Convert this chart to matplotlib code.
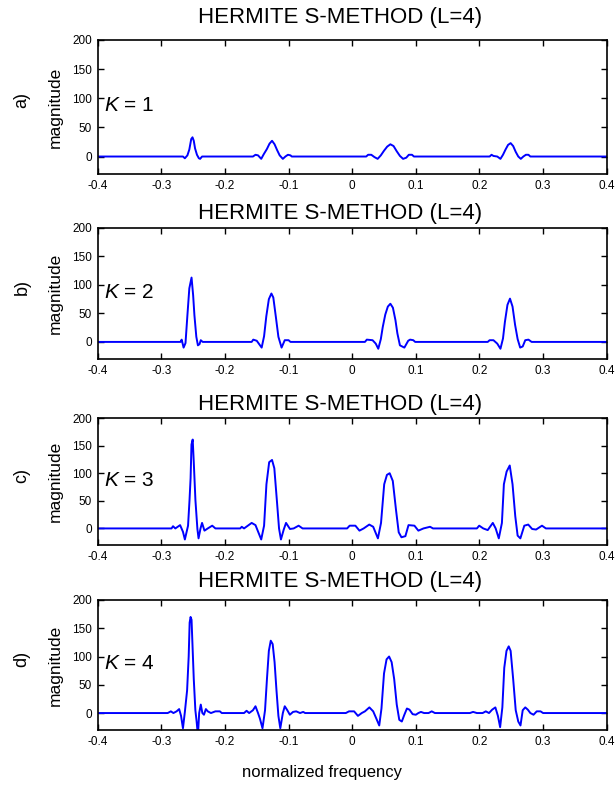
import numpy as np
import matplotlib
matplotlib.use("Agg")
import matplotlib.pyplot as plt

plt.rcParams['font.family'] = ['Liberation Sans', 'DejaVu Sans']
plt.rcParams['mathtext.fontset'] = 'custom'
plt.rcParams['mathtext.it'] = 'Liberation Sans:italic'
plt.rcParams['mathtext.rm'] = 'Liberation Sans'

####################    DATA    ####################
# (frequency, magnitude) breakpoints around each peak, baseline 0 elsewhere

peaks_k1 = [
    [(-0.266, 0), (-0.263, -3), (-0.259, 2), (-0.256, 12), (-0.253, 30), (-0.251, 33), (-0.249, 27),
     (-0.247, 14), (-0.244, 3), (-0.241, -3), (-0.239, -4), (-0.236, 0)],
    [(-0.156, 0), (-0.152, 3), (-0.148, 2), (-0.143, -4), (-0.139, 4), (-0.134, 13), (-0.130, 22),
     (-0.126, 27), (-0.122, 21), (-0.118, 11), (-0.114, 2), (-0.109, -4), (-0.105, 0), (-0.101, 3),
     (-0.097, 2), (-0.095, 0)],
    [(0.022, 0), (0.025, 3), (0.030, 3), (0.035, -1), (0.040, -4), (0.045, 2), (0.050, 10), (0.055, 17),
     (0.060, 21), (0.065, 18), (0.070, 9), (0.075, 1), (0.080, -4), (0.085, -2), (0.089, 3), (0.094, 3),
     (0.097, 0)],
    [(0.216, 0), (0.219, 3), (0.222, 1), (0.228, 0), (0.233, -4), (0.237, 3), (0.241, 12), (0.245, 20),
     (0.249, 23), (0.253, 18), (0.257, 8), (0.261, 0), (0.265, -4), (0.269, 0), (0.273, 3), (0.277, 3),
     (0.280, 0)],
]

peaks_k2 = [
    [(-0.270, 0), (-0.268, 4), (-0.265, -10), (-0.262, -2), (-0.259, 47), (-0.256, 94), (-0.2525, 113),
     (-0.250, 82), (-0.248, 47), (-0.245, 9), (-0.2425, -6), (-0.240, -4), (-0.238, 3), (-0.235, 0)],
    [(-0.158, 0), (-0.1555, 4), (-0.150, 2), (-0.1423, -10), (-0.1385, 10), (-0.135, 45), (-0.131, 75),
     (-0.127, 85), (-0.124, 78), (-0.120, 44), (-0.116, 9), (-0.111, -10), (-0.106, 3), (-0.100, 3),
     (-0.097, 0)],
    [(0.020, 0), (0.023, 4), (0.032, 3), (0.037, -3), (0.041, -12), (0.045, 5), (0.048, 26), (0.052, 48),
     (0.056, 62), (0.060, 67), (0.064, 60), (0.068, 38), (0.071, 15), (0.075, -6), (0.082, -10),
     (0.088, 2), (0.091, 4), (0.096, 3), (0.099, 0)],
    [(0.213, 0), (0.216, 3), (0.222, 3), (0.228, -3), (0.233, -12), (0.237, 6), (0.240, 35), (0.244, 65),
     (0.248, 76), (0.252, 62), (0.256, 30), (0.260, 5), (0.264, -10), (0.268, -8), (0.272, 3),
     (0.277, 4), (0.282, 0)],
]

peaks_k3 = [
    [(-0.284, 0), (-0.2816, 4), (-0.278, 0), (-0.2705, 6), (-0.266, -6), (-0.263, -20), (-0.258, 5),
     (-0.2557, 51), (-0.254, 91), (-0.2526, 152), (-0.2507, 161), (-0.249, 120), (-0.2464, 51),
     (-0.2433, -1), (-0.2415, -18), (-0.2384, 0), (-0.236, 10), (-0.2322, -4), (-0.227, 0),
     (-0.220, 5), (-0.215, 0)],
    [(-0.176, 0), (-0.1736, 3), (-0.170, 0), (-0.158, 10), (-0.152, 6), (-0.143, -20), (-0.1385, 5),
     (-0.1348, 80), (-0.1305, 120), (-0.126, 124), (-0.1224, 109), (-0.118, 45), (-0.115, 0),
     (-0.112, -20), (-0.1076, -2), (-0.104, 10), (-0.0978, -1), (-0.092, 0), (-0.0842, 5), (-0.078, 0)],
    [(-0.008, 0), (-0.004, 5), (0.005, 5), (0.0114, -4), (0.018, 0), (0.0268, 7), (0.033, 3),
     (0.0404, -18), (0.0453, 10), (0.0503, 80), (0.0546, 97), (0.0589, 100), (0.0638, 86),
     (0.0688, 34), (0.0731, -7), (0.0774, -16), (0.0836, -14), (0.0885, 6), (0.0978, 5),
     (0.104, -4), (0.112, 0), (0.1224, 3), (0.127, 0)],
    [(0.196, 0), (0.1996, 5), (0.206, 0), (0.213, -3), (0.221, 10), (0.2255, 0), (0.2304, -18),
     (0.2353, 10), (0.2384, 80), (0.2427, 103), (0.2476, 114), (0.252, 80), (0.2563, 22),
     (0.260, -13), (0.2643, -18), (0.2705, 5), (0.2767, 7), (0.2828, -1), (0.289, -2),
     (0.2983, 5), (0.3044, 0)],
]

peaks_k4 = [
    [(-0.290, 0), (-0.285, 3), (-0.281, 0), (-0.276, 3), (-0.272, 7), (-0.269, -5), (-0.266, -27),
     (-0.263, 2), (-0.2595, 40), (-0.257, 100), (-0.2555, 160), (-0.254, 170), (-0.2525, 165),
     (-0.251, 120), (-0.249, 60), (-0.2465, 5), (-0.2445, -15), (-0.2425, -40), (-0.2405, 0),
     (-0.238, 15), (-0.2355, 0), (-0.233, -3), (-0.230, 7), (-0.227, 3), (-0.222, 0), (-0.215, 3),
     (-0.208, 3), (-0.205, 0)],
    [(-0.178, 0), (-0.170, 0), (-0.166, 4), (-0.162, 0), (-0.156, 5), (-0.152, 12), (-0.148, 0),
     (-0.145, -10), (-0.141, -27), (-0.137, 5), (-0.134, 60), (-0.131, 110), (-0.128, 128),
     (-0.125, 122), (-0.122, 90), (-0.119, 40), (-0.116, -5), (-0.113, -27), (-0.109, 0),
     (-0.106, 12), (-0.102, 5), (-0.098, -3), (-0.093, 2), (-0.088, 3), (-0.082, 0), (-0.077, 2),
     (-0.074, 0)],
    [(-0.010, 0), (-0.005, 3), (0.003, 3), (0.009, -5), (0.015, 0), (0.020, 3), (0.027, 10),
     (0.033, 3), (0.038, -10), (0.0425, -22), (0.046, 8), (0.050, 70), (0.054, 95), (0.058, 100),
     (0.062, 90), (0.066, 60), (0.070, 15), (0.074, -12), (0.078, -15), (0.082, -3), (0.086, 8),
     (0.090, 6), (0.095, -2), (0.100, -3), (0.104, 0), (0.108, 2), (0.113, 0), (0.120, 0),
     (0.125, 3), (0.130, 0)],
    [(0.180, 0), (0.185, 0), (0.190, 2), (0.196, 0), (0.205, 0), (0.210, 3), (0.215, 0), (0.220, 6),
     (0.225, 10), (0.229, -5), (0.2325, -25), (0.236, 10), (0.239, 80), (0.2425, 110), (0.246, 118),
     (0.249, 110), (0.253, 60), (0.257, 5), (0.261, -15), (0.2645, -22), (0.268, 5), (0.272, 10),
     (0.276, 6), (0.280, 0), (0.285, -3), (0.290, 3), (0.296, 3), (0.300, 0)],
]

panel_peaks = [peaks_k1, peaks_k2, peaks_k3, peaks_k4]
panel_tags = ['a)', 'b)', 'c)', 'd)']
k_values = [1, 2, 3, 4]
x_ticks = [-0.4, -0.3, -0.2, -0.1, 0, 0.1, 0.2, 0.3, 0.4]
x_ticklabels = ['-0.4', '-0.3', '-0.2', '-0.1', '0', '0.1', '0.2', '0.3', '0.4']
y_ticks = [0, 50, 100, 150, 200]

####################    PLOT    ####################
W, H = 615, 790
fig = plt.figure(figsize=(W / 100, H / 100), dpi=100)

# axes boxes in pixels: (top, bottom)
boxes = [(40, 174), (228, 359), (418, 545), (600, 730)]
title_y = [18, 214, 405, 581]
left, right = 97.7, 606.7

for i in range(4):
    top, bot = boxes[i]
    ax = fig.add_axes([left / W, 1 - bot / H, (right - left) / W, (bot - top) / H])

    x = [-0.4]
    y = [0]
    for pk in panel_peaks[i]:
        for px, py in pk:
            x.append(px)
            y.append(py)
    x.append(0.4)
    y.append(0)
    ax.plot(x, y, color=(0, 0, 1), lw=1.4)

    ax.set_xlim(-0.4, 0.4)
    ax.set_ylim(-30, 200)
    ax.set_xticks(x_ticks)
    ax.set_xticklabels(x_ticklabels)
    ax.set_yticks(y_ticks)
    ax.tick_params(direction='in', length=4, width=1, top=True, right=True,
                   labelsize=8.5, pad=4)
    for s in ax.spines.values():
        s.set_linewidth(1.2)

    ax.text(-0.084, 0.5, 'magnitude', transform=ax.transAxes, rotation=90,
            ha='center', va='center', fontsize=12.5)
    ax.text(-0.149, 0.55, panel_tags[i], transform=ax.transAxes, rotation=90,
            ha='center', va='center', fontsize=13)
    ax.text(-0.39, 87, '$K$ = %d' % k_values[i], ha='left', va='center', fontsize=15)

    fig.text(340 / W, 1 - title_y[i] / H, 'HERMITE S-METHOD (L=4)', ha='center',
             va='center', fontsize=16)

fig.text(322 / W, 1 - 773 / H, 'normalized frequency', ha='center', va='center', fontsize=12)

fig.savefig('out.png', dpi=100)
